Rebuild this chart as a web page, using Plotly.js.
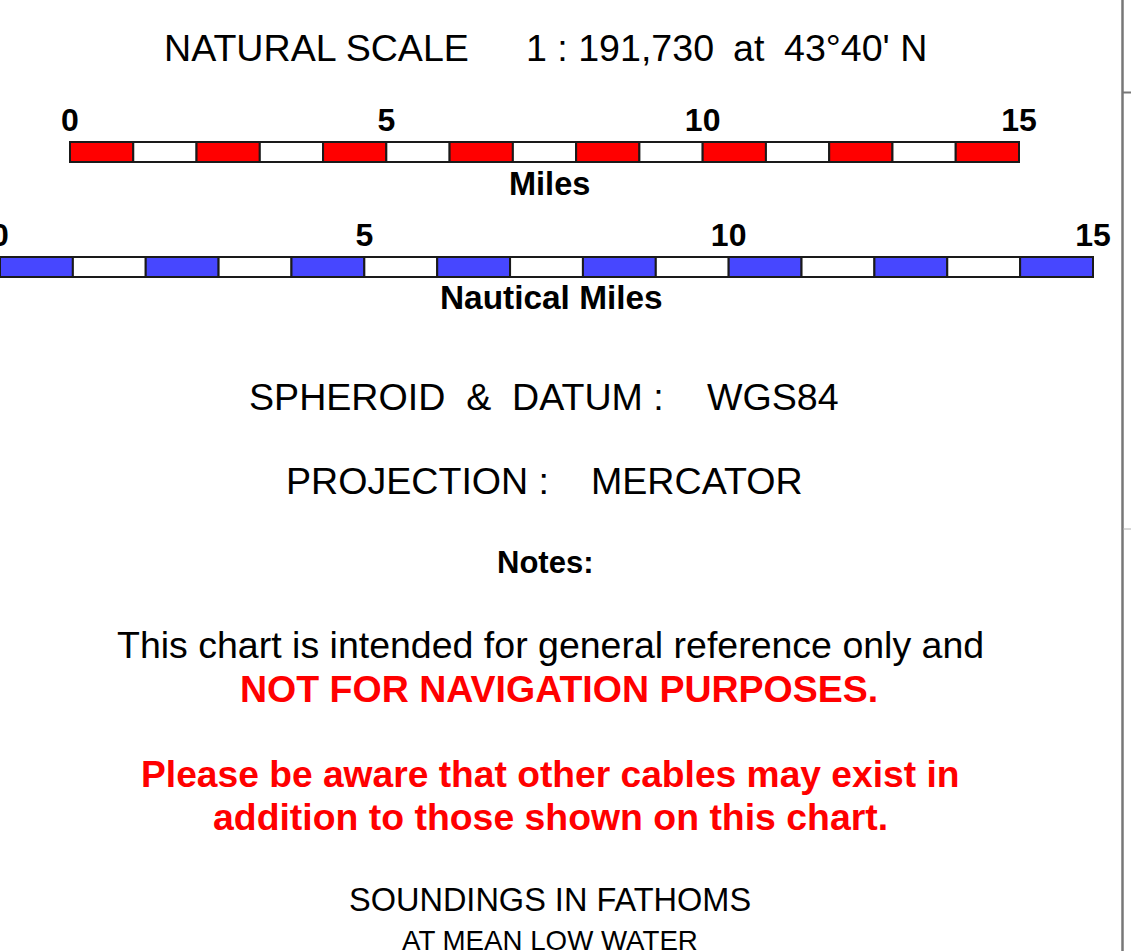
<!DOCTYPE html>
<html>
<head>
<meta charset="utf-8">
<script src="https://cdn.plot.ly/plotly-3.0.1.min.js"></script>
<style>html,body{margin:0;padding:0;background:#fff;overflow:hidden}#chart{width:1131px;height:951px}</style>
</head>
<body>
<div id="chart"></div>
<script>
// ---- data ----
const scaleNames = ['Miles', 'Nautical Miles'];
const mileSegStart = [0,1,2,3,4,5,6,7,8,9,10,11,12,13,14];
const mileSegLen   = [1,1,1,1,1,1,1,1,1,1,1,1,1,1,1];
const nautSegStart = [0,1,2,3,4,5,6,7,8,9,10,11,12,13,14];
const nautSegLen   = [1,1,1,1,1,1,1,1,1,1,1,1,1,1,1];
const mileTickVals = [0,5,10,15];
const mileTickText = ['0','5','10','15'];
const nautTickVals = [0,5,10,15];
const nautTickText = ['0','5','10','15'];
const scaleTitleParts = ['NATURAL SCALE', '1 : 191,730', 'at', "43°40' N"];
const datumParts = ['SPHEROID\u00a0 &\u00a0 DATUM :', 'WGS84'];
const projectionParts = ['PROJECTION :', 'MERCATOR'];
const notesTitle = 'Notes:';
const noteLines = ['This chart is intended for general reference only and'];
const warnLines = ['NOT FOR NAVIGATION PURPOSES.'];
const cableLines = ['Please be aware that other cables may exist in', 'addition to those shown on this chart.'];
const soundingLines = ['SOUNDINGS IN FATHOMS', 'AT MEAN LOW WATER'];

// ---- layout helpers ----
const W = 1131, H = 951;
const px = v => v / W;
const py = v => 1 - v / H;
const FONT = 'Liberation Sans, Arial, Helvetica, sans-serif';
const RED = '#ff0000', BLUE = '#4747ff';

function alt(n, c) { return Array.from({length: n}, (_, i) => i % 2 === 0 ? c : '#ffffff'); }

const traces = [
  {
    type: 'bar', orientation: 'h',
    y: mileSegStart.map(() => scaleNames[0]),
    x: mileSegLen, base: mileSegStart, width: 1,
    marker: {color: alt(mileSegStart.length, RED), line: {color: '#1a1a1a', width: 2}},
    xaxis: 'x', yaxis: 'y', hoverinfo: 'skip'
  },
  {
    type: 'bar', orientation: 'h',
    y: nautSegStart.map(() => scaleNames[1]),
    x: nautSegLen, base: nautSegStart, width: 1,
    marker: {color: alt(nautSegStart.length, BLUE), line: {color: '#1a1a1a', width: 2}},
    xaxis: 'x2', yaxis: 'y2', hoverinfo: 'skip'
  }
];

// miles: 0 -> 70px, 15 -> 1019px ; nautical: 0 -> 0px, 15 -> 1093px
const mU = (1019 - 70) / 15, nU = 1093 / 15, pad = 4;
const tickFont = {family: FONT, size: 32, weight: 'bold', color: '#000'};

function ann(text, x, ymid, size, opts) {
  return Object.assign({
    text: text, xref: 'paper', yref: 'paper', x: px(x), y: py(ymid),
    xanchor: 'center', yanchor: 'middle', showarrow: false,
    font: {family: FONT, size: size, color: '#000'}
  }, opts || {});
}
function left(text, x, ymid, size, opts) { return ann(text, x, ymid, size, Object.assign({xanchor: 'left'}, opts || {})); }
const bold = (size, color) => ({font: {family: FONT, size: size, weight: 'bold', color: color || '#000'}});

const annotations = [
  left(scaleTitleParts[0], 162, 48, 37.6),
  left(scaleTitleParts[1], 524, 48, 37.6),
  left(scaleTitleParts[2], 731, 48, 37.6),
  left(scaleTitleParts[3], 782, 48, 37.6),
  ann(scaleNames[0], 549, 183.5, 32.5, bold(32.5)),
  ann(scaleNames[1], 551, 297.5, 33.4, bold(33.4)),
  left(datumParts[0], 247, 397, 37.6),
  left(datumParts[1], 705, 397, 37.6),
  left(projectionParts[0], 284, 481, 37.6),
  left(projectionParts[1], 589, 481, 37.6),
  ann(notesTitle, 545, 562, 31, bold(31)),
  ann(noteLines[0], 550, 645, 37.5),
  ann(warnLines[0], 558.5, 689, 37.5, bold(37.5, RED)),
  ann(cableLines[0], 550.5, 773.5, 37.2, bold(37.2, RED)),
  ann(cableLines[1], 550, 816.5, 37.4, bold(37.4, RED)),
  ann(soundingLines[0], 550, 900, 32.5),
  ann(soundingLines[1], 549.5, 940, 27.7)
];

const shapes = [
  {type: 'line', xref: 'paper', yref: 'paper', x0: px(1122.5), x1: px(1122.5), y0: 0, y1: 1, line: {color: '#777777', width: 2.5}},
  {type: 'line', xref: 'paper', yref: 'paper', x0: px(1123), x1: 1, y0: py(92.5), y1: py(92.5), line: {color: '#777777', width: 2}},
  {type: 'line', xref: 'paper', yref: 'paper', x0: px(1123), x1: 1, y0: py(529), y1: py(529), line: {color: '#b0b0b0', width: 1}}
];

const layout = {
  width: W, height: H,
  margin: {l: 0, r: 0, t: 0, b: 0, pad: 0},
  paper_bgcolor: '#ffffff', plot_bgcolor: 'rgba(0,0,0,0)',
  showlegend: false, barmode: 'overlay',
  xaxis: {
    domain: [px(70 - pad), px(1019 + pad)], range: [-pad / mU, 15 + pad / mU],
    side: 'top', anchor: 'y', tickvals: mileTickVals, ticktext: mileTickText, tickfont: tickFont,
    ticks: '', showgrid: false, zeroline: false, showline: false, ticklabelstandoff: 0, ticklabeloverflow: 'allow'
  },
  yaxis: {
    domain: [py(162 + pad), py(142 - pad)], range: [-0.5 - pad / 20, 0.5 + pad / 20],
    visible: false, type: 'category'
  },
  xaxis2: {
    domain: [0, px(1093 + pad)], range: [0, 15 + pad / nU],
    side: 'top', anchor: 'y2', tickvals: nautTickVals, ticktext: nautTickText, tickfont: tickFont,
    ticks: '', showgrid: false, zeroline: false, showline: false, ticklabelstandoff: 0, ticklabeloverflow: 'allow'
  },
  yaxis2: {
    domain: [py(277 + pad), py(257 - pad)], range: [-0.5 - pad / 20, 0.5 + pad / 20],
    visible: false, type: 'category'
  },
  annotations: annotations,
  shapes: shapes
};

Plotly.newPlot('chart', traces, layout, {staticPlot: true, displayModeBar: false});
</script>
</body>
</html>
